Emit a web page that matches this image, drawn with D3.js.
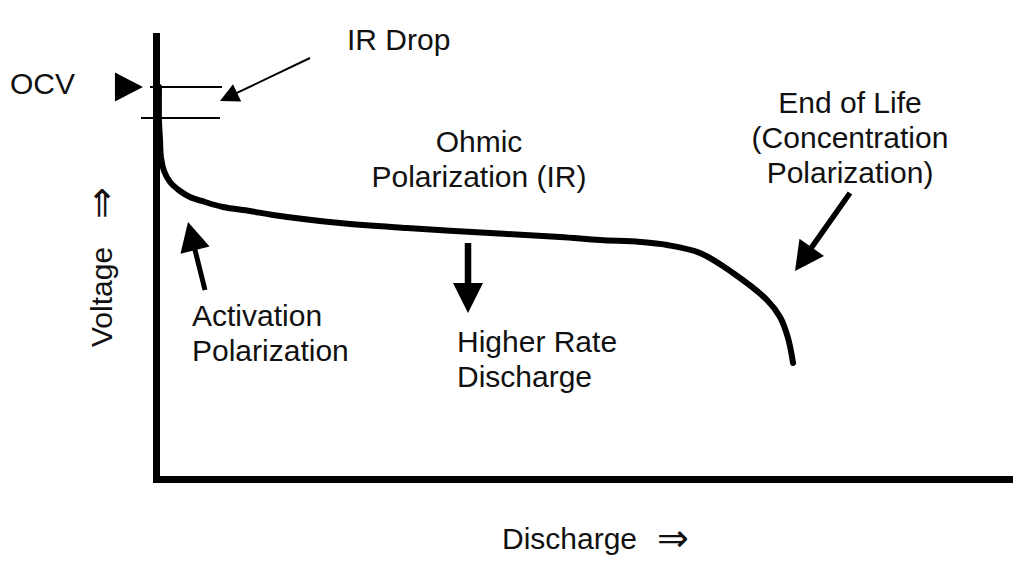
<!DOCTYPE html>
<html>
<head>
<meta charset="utf-8">
<script src="https://cdn.jsdelivr.net/npm/d3@7"></script>
<style>
  html, body { margin: 0; padding: 0; background: #fff; }
  svg text { font-family: "Liberation Sans", Arial, Helvetica, sans-serif; fill: #111; }
</style>
</head>
<body>
<svg id="chart" width="1023" height="571"></svg>
<script>
// Discharge curve (relative units, 0-100)
const discharge = [0.29, 0.29, 0.41, 0.53, 0.88, 1.58, 2.74, 3.91, 5.66, 7.76, 10.92, 13.6, 21.42, 29.25, 38.94, 47.11, 51.78, 56.45, 59.61, 63.46, 67.31, 71.28, 72.8, 73.73, 74.32];
const voltage   = [87.91, 80.52, 76.04, 72.0, 69.09, 66.63, 64.61, 63.27, 62.15, 61.03, 60.13, 59.24, 57.45, 56.33, 55.21, 54.31, 53.64, 53.2, 52.52, 50.73, 46.25, 40.2, 36.39, 31.69, 26.09];
const ocv = 87.91;
const irDropLevel = 80.96;

// Annotation arrows in data units: [x1, y1] -> [x2(tip), y2(tip)]
const arrowNames = ["IR Drop", "Activation", "Higher Rate", "End of Life"];
const arrowFrom  = [[17.92, 94.4], [5.66, 42.44], [36.37, 52.97], [80.97, 64.17]];
const arrowTo    = [[7.41, 84.77], [3.68, 57.67], [36.37, 37.29], [74.55, 46.7]];

const svg = d3.select("#chart");
const x = d3.scaleLinear().domain([0, 100]).range([156.5, 1013]);
const y = d3.scaleLinear().domain([0, 100]).range([479.5, 33]);

// axes (plain lines, no ticks)
svg.append("line").attr("x1", x(0)).attr("x2", x(0)).attr("y1", y(100)).attr("y2", y(0) + 3.5)
  .attr("stroke", "#000").attr("stroke-width", 7);
svg.append("line").attr("x1", x(0) - 3.5).attr("x2", x(100)).attr("y1", y(0)).attr("y2", y(0))
  .attr("stroke", "#000").attr("stroke-width", 7);

// OCV and IR drop reference lines
svg.append("line").attr("x1", x(-0.76)).attr("x2", x(7.65)).attr("y1", y(ocv)).attr("y2", y(ocv))
  .attr("stroke", "#000").attr("stroke-width", 2);
svg.append("line").attr("x1", x(-1.81)).attr("x2", x(7.41)).attr("y1", y(irDropLevel)).attr("y2", y(irDropLevel))
  .attr("stroke", "#000").attr("stroke-width", 2);

// OCV marker triangle
{
  const tx = x(-1.58), ty = y(ocv);
  svg.append("path").attr("d", `M${tx},${ty} L${tx - 28},${ty - 14.5} L${tx - 28},${ty + 14.5} Z`).attr("fill", "#000");
}

// discharge curve
const pts = discharge.map((d, i) => [d, voltage[i]]);
svg.append("path")
  .datum(pts)
  .attr("d", d3.line().x(d => x(d[0])).y(d => y(d[1])).curve(d3.curveCatmullRom.alpha(0.5)))
  .attr("fill", "none").attr("stroke", "#000").attr("stroke-width", 6)
  .attr("stroke-linecap", "round").attr("stroke-linejoin", "round");

// arrows
const shaftW = [2, 5, 6.5, 5.5];
const headL = [19, 29, 30, 29];
const headW = [19, 30, 30, 30];
arrowNames.forEach((name, i) => {
  const x1 = x(arrowFrom[i][0]), y1 = y(arrowFrom[i][1]);
  const x2 = x(arrowTo[i][0]), y2 = y(arrowTo[i][1]);
  const dx = x2 - x1, dy = y2 - y1, len = Math.hypot(dx, dy);
  const ux = dx / len, uy = dy / len;
  const bx = x2 - ux * headL[i], by = y2 - uy * headL[i];
  const px = -uy, py = ux;
  svg.append("line").attr("x1", x1).attr("y1", y1).attr("x2", bx + ux * 2).attr("y2", by + uy * 2)
    .attr("stroke", "#000").attr("stroke-width", shaftW[i]);
  const hw = headW[i] / 2;
  svg.append("path")
    .attr("d", `M${x2},${y2} L${bx + px * hw},${by + py * hw} L${bx - px * hw},${by - py * hw} Z`)
    .attr("fill", "#000");
});

// labels
const fs = 30;
function label(txt, lx, ly, anchor) {
  return svg.append("text").attr("x", lx).attr("y", ly).attr("text-anchor", anchor || "start")
    .attr("font-size", fs).text(txt);
}
label("OCV", 10, 94);
label("IR Drop", 347, 50);
label("Ohmic", 479, 152, "middle");
label("Polarization (IR)", 479, 187, "middle");
label("End of Life", 850, 113, "middle");
label("(Concentration", 850, 148, "middle");
label("Polarization)", 850, 183, "middle");
label("Activation", 192, 326);
label("Polarization", 192, 361);
label("Higher Rate", 457, 352);
label("Discharge", 457, 387);
label("Discharge", 502, 549);
label("\u21D2", 657, 551).attr("font-family", "DejaVu Sans").attr("font-size", 38);
svg.append("text").attr("transform", "translate(112,347) rotate(-90)")
  .attr("font-size", fs).text("Voltage");
svg.append("text").attr("transform", "translate(114,219) rotate(-90)")
  .attr("font-family", "DejaVu Sans").attr("font-size", 38).text("\u21D2");
</script>
</body>
</html>
